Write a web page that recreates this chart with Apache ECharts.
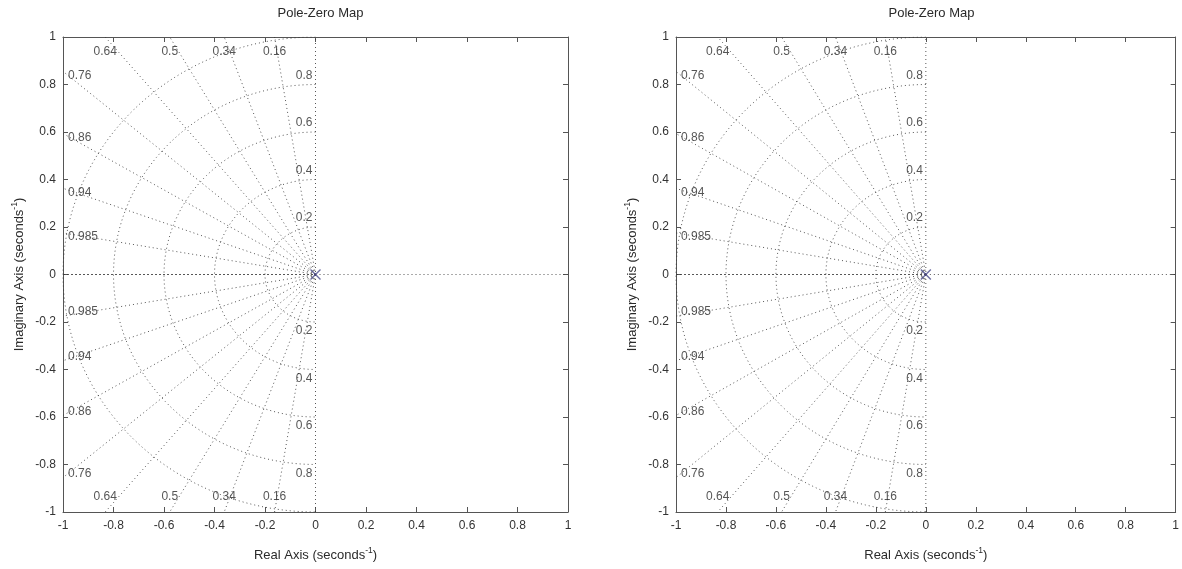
<!DOCTYPE html>
<html><head><meta charset="utf-8">
<script src="https://cdn.jsdelivr.net/npm/echarts@6/dist/echarts.min.js"></script>
<style>html,body{margin:0;padding:0;background:#fff}#c{width:1182px;height:569px}</style>
</head><body><div id="c"></div>
<script>
// ---- data ----
const zetaValues = [0.16, 0.34, 0.5, 0.64, 0.76, 0.86, 0.94, 0.985];
const wnValues = [0.2, 0.4, 0.6, 0.8, 1.0];
const wnLabelValues = [0.2, 0.4, 0.6, 0.8];
const poles = [[0, 0]];
const axisTickLabels = ['-1', '-0.8', '-0.6', '-0.4', '-0.2', '0', '0.2', '0.4', '0.6', '0.8', '1'];
const axisMin = -1, axisMax = 1, axisStep = 0.2;
const titleText = 'Pole-Zero Map';
const xName = 'Real Axis (seconds{sup|-1})';
const yName = 'Imaginary Axis (seconds{sup|-1})';

// ---- style ----
const FONT = 'Liberation Sans, Arial, sans-serif';
const TXT = '#2a2a2a';
const AXC = '#555';
const GRIDC = '#3a3a3a';
const grids = [
  {left: 63, top: 37, width: 505, height: 476, nameGapY: 35},
  {left: 676, top: 37, width: 501, height: 476, nameGapY: 35}
];

function tickFmt(v) {
  const i = Math.round((v - axisMin) / axisStep);
  return axisTickLabels[i] !== undefined ? axisTickLabels[i] : '';
}
const nameStyle = {
  fontFamily: FONT, fontSize: 13, color: TXT, lineHeight: 18,
  rich: {sup: {fontFamily: FONT, fontSize: 8.5, color: TXT, verticalAlign: 'top', lineHeight: 18}}
};

const option = {
  animation: false,
  backgroundColor: '#fff',
  title: [], grid: [], xAxis: [], yAxis: [], series: []
};

grids.forEach((g, gi) => {
  option.grid.push({left: g.left, top: g.top, width: g.width, height: g.height, containLabel: false});
  option.title.push({
    text: titleText, left: g.left + g.width / 2, top: 2, textAlign: 'center',
    textStyle: {fontFamily: FONT, fontSize: 13, fontWeight: 'normal', color: TXT}
  });
  const common = {
    type: 'value', min: axisMin, max: axisMax, interval: axisStep, gridIndex: gi,
    splitLine: {show: false},
    axisLine: {show: true, onZero: false, lineStyle: {color: AXC, width: 1}},
    axisTick: {show: true, inside: true, length: 5, lineStyle: {color: AXC}}
  };
  option.xAxis.push(Object.assign({}, common, {
    position: 'bottom',
    axisLabel: {show: true, margin: 8, fontFamily: FONT, fontSize: 12, color: '#333',
      formatter: tickFmt, showMinLabel: true, showMaxLabel: true},
    name: xName, nameLocation: 'middle', nameGap: 34, nameTextStyle: nameStyle
  }));
  option.xAxis.push(Object.assign({}, common, {position: 'top', axisLabel: {show: false}}));
  option.yAxis.push(Object.assign({}, common, {
    position: 'left',
    axisLabel: {show: true, margin: 7, fontFamily: FONT, fontSize: 12, color: '#333',
      formatter: tickFmt, showMinLabel: true, showMaxLabel: true},
    name: yName, nameLocation: 'middle', nameRotate: 90, nameGap: g.nameGapY, nameTextStyle: nameStyle
  }));
  option.yAxis.push(Object.assign({}, common, {position: 'right', axisLabel: {show: false}}));

  const xi = gi * 2, yi = gi * 2;
  const dotted = {color: GRIDC, width: 1, type: [1, 3], opacity: 0.85};

  // damping ratio radial lines
  const radial = [];
  zetaValues.forEach(z => {
    const s = Math.sqrt(1 - z * z);
    const t = Math.min(axisMax / z, axisMax / s);
    [1, -1].forEach(sg => radial.push({coords: [[0, 0], [-z * t, sg * s * t]]}));
  });
  // natural frequency arcs (left half plane)
  const arcs = wnValues.map(w => {
    const pts = [];
    for (let k = 0; k <= 90; k++) {
      const a = Math.PI / 2 + Math.PI * k / 90;
      pts.push([w * Math.cos(a), w * Math.sin(a)]);
    }
    return {coords: pts};
  });
  // imaginary axis and real axis
  const axesLines = [
    {coords: [[0, axisMin], [0, axisMax]]},
    {coords: [[0, 0], [axisMax, 0]]}
  ];
  option.series.push({
    type: 'lines', coordinateSystem: 'cartesian2d', xAxisIndex: xi, yAxisIndex: yi,
    polyline: true, silent: true, lineStyle: dotted, data: radial.concat(arcs).concat(axesLines), z: 2
  });
  option.series.push({
    type: 'lines', coordinateSystem: 'cartesian2d', xAxisIndex: xi, yAxisIndex: yi,
    polyline: true, silent: true, lineStyle: {color: GRIDC, width: 1, type: [2, 2], opacity: 0.85},
    data: [{coords: [[axisMin, 0], [0, 0]]}], z: 2
  });

  // labels for damping ratios
  const zLabels = [];
  zetaValues.forEach(z => {
    const s = Math.sqrt(1 - z * z);
    const top = z / s <= 1; // hits top/bottom edge
    [1, -1].forEach(sg => {
      if (top) {
        zLabels.push({value: [-z / s * axisMax, sg * axisMax], name: String(z),
          label: {align: 'center', verticalAlign: 'middle', offset: [0, sg * 15]}});
      } else {
        zLabels.push({value: [axisMin, sg * (s / z) * axisMax], name: String(z),
          label: {align: 'left', verticalAlign: 'middle', offset: [5, sg * 4]}});
      }
    });
  });
  wnLabelValues.forEach(w => {
    [1, -1].forEach(sg => {
      zLabels.push({value: [0, sg * w], name: String(w),
        label: {align: 'right', verticalAlign: 'middle', offset: [-3, -sg * 9]}});
    });
  });
  option.series.push({
    type: 'scatter', xAxisIndex: xi, yAxisIndex: yi, symbolSize: 0, silent: true, z: 3,
    data: zLabels,
    label: {show: true, position: 'inside', formatter: p => p.name,
      fontFamily: FONT, fontSize: 12, color: TXT}
  });

  // poles
  option.series.push({
    type: 'scatter', xAxisIndex: xi, yAxisIndex: yi, z: 5, silent: true,
    symbol: 'path://M0,0 L10,10 M10,0 L0,10', symbolSize: 10,
    itemStyle: {color: 'rgba(0,0,0,0)', borderColor: '#4a4a8c', borderWidth: 1.4},
    data: poles
  });
});

const chart = echarts.init(document.getElementById('c'), null, {renderer: 'canvas'});
chart.setOption(option);
</script>
</body></html>
